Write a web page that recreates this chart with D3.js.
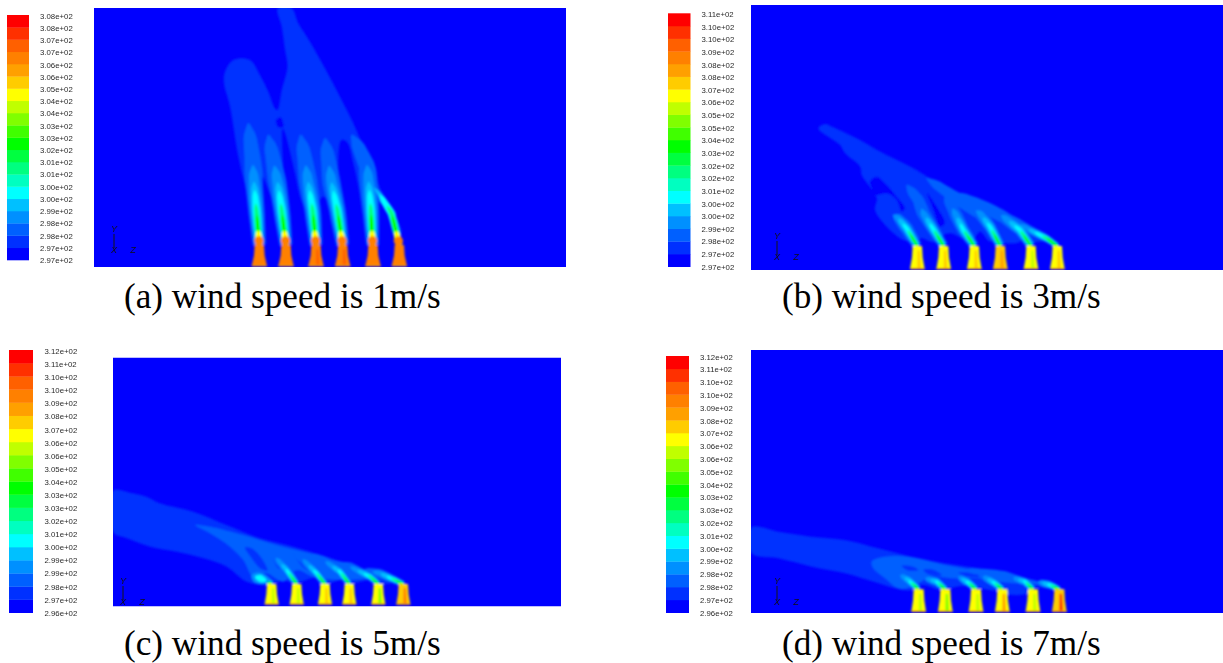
<!DOCTYPE html>
<html>
<head>
<meta charset="utf-8">
<script src="https://d3js.org/d3.v7.min.js"></script>
<style>
html, body { margin: 0; padding: 0; background: #fff; }
svg { display: block; }
.leg text { font-family: "Liberation Sans", sans-serif; font-size: 7.8px; fill: #2a2a2a; }
.caption { font-family: "Liberation Serif", serif; font-size: 35.2px; fill: #000; }
.triad { font-family: "Liberation Sans", sans-serif; font-size: 9px; font-style: italic; fill: #111; }
</style>
</head>
<body>
<svg width="1223" height="663"></svg>
<script>
// colour bands of the contour legend, lowest first
const bands = ["#0000ff", "#0030ff", "#0060ff", "#0090ff", "#00c0ff", "#00ffff", "#00ffc0", "#00ff80", "#00ff40", "#00ff00",
    "#40ff00", "#80ff00", "#c0ff00", "#ffff00", "#ffcc00", "#ffa000", "#ff8000", "#ff6000", "#ff3000", "#ff0000"];

const labelsA = ["3.08e+02", "3.08e+02", "3.07e+02", "3.07e+02", "3.06e+02", "3.06e+02", "3.05e+02", "3.04e+02", "3.04e+02", "3.03e+02", "3.03e+02", "3.02e+02", "3.01e+02", "3.01e+02", "3.00e+02", "3.00e+02", "2.99e+02", "2.98e+02", "2.98e+02", "2.97e+02", "2.97e+02"];
const labelsB = ["3.11e+02", "3.10e+02", "3.10e+02", "3.09e+02", "3.08e+02", "3.08e+02", "3.07e+02", "3.06e+02", "3.05e+02", "3.05e+02", "3.04e+02", "3.03e+02", "3.02e+02", "3.02e+02", "3.01e+02", "3.00e+02", "3.00e+02", "2.99e+02", "2.98e+02", "2.97e+02", "2.97e+02"];
const labelsC = ["3.12e+02", "3.11e+02", "3.10e+02", "3.10e+02", "3.09e+02", "3.08e+02", "3.07e+02", "3.06e+02", "3.06e+02", "3.05e+02", "3.04e+02", "3.03e+02", "3.03e+02", "3.02e+02", "3.01e+02", "3.00e+02", "2.99e+02", "2.99e+02", "2.98e+02", "2.97e+02", "2.96e+02"];
const labelsD = ["3.12e+02", "3.11e+02", "3.10e+02", "3.10e+02", "3.09e+02", "3.08e+02", "3.07e+02", "3.06e+02", "3.06e+02", "3.05e+02", "3.04e+02", "3.03e+02", "3.03e+02", "3.02e+02", "3.01e+02", "3.00e+02", "2.99e+02", "2.98e+02", "2.98e+02", "2.97e+02", "2.96e+02"];

// tower axis positions and bands [body, stripe]
const towersA = [[148, 16, 16], [228, 16, 16], [318, 16, 17], [398, 16, 17], [489, 16, 16], [568, 16, 16]];
const towersB = [[382, 13, 14], [461, 13, 14], [553, 13, 14], [631, 14, 15], [723, 13, 12], [802, 13, 14]];
const towersC = [[485, 13, 12], [560, 13, 12], [645, 13, 14], [718, 13, 14], [805, 13, 11], [880, 14, 16]];
const towersD = [[521, 13, 12], [601, 13, 11], [693, 13, 12], [772, 13, 15], [864, 13, 12], [943, 14, 18]];

// plume centre lines, from tower top downwind
const plumesA = [
    [[148, 735], [140, 640], [133, 560], [128, 480], [115, 370]],
    [[228, 735], [215, 630], [205, 560], [190, 480], [175, 405]],
    [[318, 735], [308, 630], [295, 550], [285, 480], [272, 405]],
    [[398, 735], [382, 630], [365, 550], [355, 480], [345, 415]],
    [[488, 735], [482, 620], [472, 500], [445, 440], [425, 405]],
    [[568, 735], [545, 640], [510, 585], [490, 560]]
];
const plumesB = [
    [[382, 408], [350, 355], [325, 325], [310, 315]],
    [[461, 408], [425, 350], [400, 310], [385, 270], [350, 225]],
    [[553, 408], [520, 360], [490, 300], [465, 255]],
    [[631, 408], [600, 350], [570, 310], [500, 265], [410, 205]],
    [[723, 408], [690, 360], [640, 320], [560, 280], [490, 250]],
    [[802, 408], [770, 385], [720, 360], [650, 320], [600, 300]]
];
const plumesC = [
    [[485, 342], [465, 330], [435, 322]],
    [[560, 342], [530, 300], [490, 255], [460, 232]],
    [[645, 342], [620, 310], [580, 270], [550, 250]],
    [[718, 342], [690, 305], [640, 270], [600, 255]],
    [[805, 342], [780, 320], [720, 290], [660, 280]],
    [[880, 342], [850, 328], [810, 310], [760, 300]]
];
const plumesD = [
    [[521, 238], [490, 210], [450, 185]],
    [[601, 238], [575, 215], [540, 205]],
    [[693, 238], [670, 218], [640, 200]],
    [[772, 238], [750, 220], [700, 190]],
    [[864, 238], [840, 215], [780, 195], [660, 180]],
    [[943, 238], [915, 225], [880, 215]]
];

// relative width of the outer bands of each plume
const slimA = [1, 1, 1, 1, 1, 0.4];
const slimB = [1, 1, 1, 1, 1, 0.7];
const slimC = [1, 1, 1, 1, 1, 1];
const slimD = [1, 1, 1, 1, 1, 1];

// [band, reach along the plume, half width]
const layersA = [[2, 999, 27], [3, 240, 19], [4, 190, 14], [5, 165, 11], [7, 125, 8], [9, 90, 7], [13, 42, 10], [16, 26, 14]];
const layersB = [[2, 999, 19], [3, 130, 13], [4, 100, 10], [5, 80, 6], [7, 55, 5], [9, 38, 5]];
const layersC = [[2, 999, 13], [3, 100, 9], [4, 75, 7], [5, 55, 5], [7, 40, 4], [9, 25, 4]];
const layersD = [[2, 999, 12], [3, 70, 10], [4, 55, 7], [5, 40, 5], [7, 30, 4], [9, 20, 4]];

// low temperature contours: [band, outline]
const contoursA = [
    [1, [[203, 25], [245, 25], [265, 70], [300, 125], [345, 205], [390, 290], [430, 370], [460, 440], [490, 510], [515, 575], [545, 625], [575, 700], [560, 715], [530, 640], [505, 605], [505, 650], [495, 690], [475, 690], [460, 650], [445, 560], [430, 490], [412, 428], [395, 420], [385, 480], [395, 600], [405, 690], [385, 680], [365, 620], [340, 590], [330, 600], [325, 650], [310, 680], [295, 650], [270, 590], [255, 520], [225, 400], [218, 385], [220, 500], [235, 620], [225, 680], [210, 680], [190, 610], [175, 570], [158, 530], [155, 620], [145, 690], [130, 690], [115, 600], [85, 470], [60, 320], [42, 250], [45, 215], [70, 180], [120, 180], [150, 225], [175, 275], [195, 325], [202, 330], [215, 270], [232, 200], [225, 150], [215, 80]]],
    [0, [[198, 360], [212, 352], [220, 380], [205, 382]]]
];
const contoursB = [
    [1, [[85, 55], [105, 42], [130, 52], [200, 85], [280, 130], [380, 180], [480, 245], [570, 290], [650, 320], [720, 355], [790, 395], [810, 408], [760, 395], [715, 395], [690, 365], [690, 395], [635, 395], [625, 365], [600, 395], [570, 365], [545, 395], [515, 385], [480, 370], [445, 385], [440, 395], [420, 395], [395, 385], [370, 395], [340, 390], [290, 350], [255, 300], [260, 265], [235, 225], [215, 195], [210, 170], [165, 130], [150, 105]]],
    [0, [[240, 215], [260, 200], [290, 225], [320, 260], [345, 295], [335, 305], [320, 270], [290, 250], [255, 255], [245, 235]]],
    [0, [[412, 250], [440, 290], [465, 340], [450, 350], [430, 300]]],
    [0, [[490, 300], [505, 320], [530, 355], [515, 360], [497, 325]]]
];
const contoursC = [
    [1, [[10, 62], [60, 68], [110, 80], [150, 100], [250, 125], [350, 165], [450, 205], [550, 230], [650, 260], [750, 295], [850, 325], [895, 345], [860, 338], [800, 342], [790, 330], [705, 342], [700, 330], [630, 345], [620, 325], [550, 340], [520, 330], [475, 345], [410, 335], [350, 290], [280, 265], [200, 245], [120, 230], [50, 205], [10, 187]]],
    [2, [[255, 165], [300, 170], [400, 195], [500, 225], [600, 250], [700, 280], [800, 310], [870, 335], [800, 325], [700, 330], [610, 320], [560, 300], [520, 335], [470, 310], [430, 320], [400, 270], [360, 230], [300, 190]]],
    [1, [[405, 232], [425, 235], [455, 265], [472, 302], [450, 295], [425, 265]]],
    [1, [[470, 240], [495, 260], [525, 300], [505, 295], [485, 265]]],
    [1, [[550, 250], [575, 270], [610, 305], [590, 300], [565, 275]]]
];
const contoursD = [
    [1, [[20, 52], [100, 65], [200, 80], [300, 90], [400, 115], [500, 140], [600, 160], [700, 175], [800, 195], [900, 218], [960, 240], [900, 235], [870, 232], [850, 250], [800, 255], [750, 243], [700, 235], [650, 228], [590, 240], [530, 225], [500, 240], [470, 240], [400, 220], [300, 190], [200, 170], [100, 145], [20, 130]]],
    [2, [[380, 155], [420, 140], [500, 142], [600, 165], [700, 182], [800, 198], [900, 222], [850, 222], [760, 215], [700, 205], [620, 205], [560, 200], [500, 230], [460, 235], [420, 205], [385, 175]]],
    [1, [[470, 168], [505, 170], [520, 180], [490, 182]]],
    [1, [[535, 180], [560, 178], [590, 195], [555, 195]]],
    [1, [[640, 188], [690, 190], [720, 200], [670, 200]]]
];

// warm spots that sit over the plumes
const spotsC = [
    [3, [[425, 315], [450, 308], [480, 330], [460, 342], [432, 335]]],
    [5, [[435, 320], [452, 315], [470, 332], [450, 335]]]
];

// width of a plume band along its reach
const girth = d3.scaleLinear().domain([0, 0.25, 0.6, 0.9, 1]).range([0.72, 0.9, 1, 0.7, 0.1]);

function ribbon(pts, reach, halfWidth) {
    const dist = [0];
    for (let i = 1; i < pts.length; i++) {
        dist.push(dist[i - 1] + Math.hypot(pts[i][0] - pts[i - 1][0], pts[i][1] - pts[i - 1][1]));
    }
    const end = Math.min(reach, dist[dist.length - 1]);
    const xAt = d3.scaleLinear().domain(dist).range(pts.map(p => p[0]));
    const yAt = d3.scaleLinear().domain(dist).range(pts.map(p => p[1]));
    const left = [], right = [];
    d3.range(25).forEach(i => {
        const t = i / 24, s = t * end;
        const dx = xAt(s + 2) - xAt(s - 2), dy = yAt(s + 2) - yAt(s - 2);
        const len = Math.hypot(dx, dy) || 1;
        const w = halfWidth * girth(t);
        left.push([xAt(s) - dy / len * w, yAt(s) + dx / len * w]);
        right.push([xAt(s) + dy / len * w, yAt(s) - dx / len * w]);
    });
    return left.concat(right.reverse());
}

const svg = d3.select("svg");
const defs = svg.append("defs");
defs.append("filter").attr("id", "soft").append("feGaussianBlur").attr("stdDeviation", 0.8);
defs.append("filter").attr("id", "softText").append("feGaussianBlur").attr("stdDeviation", 0.28);

function drawPanel(p, idx) {
    // legend bar and its labels
    const leg = svg.append("g").attr("class", "leg");
    const barY = d3.scaleBand().domain(d3.range(20).reverse()).range([p.barTop, p.barBottom]);
    leg.selectAll("rect").data(bands).enter().append("rect")
        .attr("x", p.barX)
        .attr("y", (d, i) => barY(i))
        .attr("width", p.barW)
        .attr("height", barY.bandwidth() + 0.3)
        .attr("fill", d => d);
    const labelY = d3.scaleLinear().domain([0, p.labels.length - 1]).range([p.labelTop, p.barBottom]);
    const axis = d3.axisRight(labelY)
        .tickValues(d3.range(p.labels.length))
        .tickSize(0)
        .tickPadding(0)
        .tickFormat(i => p.labels[i]);
    const axisG = leg.append("g").attr("transform", `translate(${p.labelX},0)`).attr("filter", "url(#softText)").call(axis);
    axisG.select(".domain").remove();

    // plot area
    defs.append("clipPath").attr("id", "clip" + idx).append("rect")
        .attr("x", p.left).attr("y", p.top).attr("width", p.right - p.left).attr("height", p.bottom - p.top);
    const plot = svg.append("g").attr("clip-path", `url(#clip${idx})`);
    plot.append("rect")
        .attr("x", p.left).attr("y", p.top).attr("width", p.right - p.left).attr("height", p.bottom - p.top)
        .attr("fill", bands[0]);

    const x = d3.scaleLinear().domain(p.xDomain).range(p.xRange);
    const y = d3.scaleLinear().domain(p.yDomain).range(p.yRange);
    const line = d3.line().x(d => x(d[0])).y(d => y(d[1])).curve(d3.curveLinearClosed);
    const smooth = d3.line().x(d => x(d[0])).y(d => y(d[1])).curve(d3.curveCatmullRomClosed.alpha(0.5));
    const g = plot.append("g").attr("filter", "url(#soft)");

    p.contours.forEach(c => {
        g.append("path").attr("d", smooth(c[1])).attr("fill", bands[c[0]]);
    });
    p.layers.forEach(l => {
        p.plumes.forEach((pts, i) => {
            // the outer bands follow the plume's own width, the hot core does not
            const w = l[0] < 5 ? l[2] * p.slim[i] : l[2];
            g.append("path").attr("d", line(ribbon(pts, l[1], w))).attr("fill", bands[l[0]]);
        });
    });
    (p.spots || []).forEach(c => {
        g.append("path").attr("d", smooth(c[1])).attr("fill", bands[c[0]]);
    });
    p.towers.forEach(t => {
        const [cx, body, stripe] = t;
        const h = p.towerBase - p.towerTop;
        g.append("path").attr("d", line([
            [cx - p.halfTop, p.towerTop], [cx + p.halfTop, p.towerTop],
            [cx + p.halfTop + 2, p.towerTop + h * 0.5], [cx + p.halfBase, p.towerBase],
            [cx - p.halfBase, p.towerBase], [cx - p.halfTop - 2, p.towerTop + h * 0.5]
        ])).attr("fill", bands[body]);
        g.append("path").attr("d", line([
            [cx + 1, p.towerTop + h * 0.2], [cx + p.halfTop * 0.55, p.towerTop + h * 0.2],
            [cx + p.halfBase * 0.5, p.towerBase], [cx, p.towerBase]
        ])).attr("fill", bands[stripe]);
        g.append("path").attr("d", line([
            [cx - p.halfBase, p.towerBase - 3], [cx + p.halfBase, p.towerBase - 3],
            [cx + p.halfBase, p.towerBase + 1], [cx - p.halfBase, p.towerBase + 1]
        ])).attr("fill", bands[15]);
    });

    // coordinate triad
    const tri = svg.append("g").attr("class", "triad").attr("filter", "url(#softText)");
    tri.append("text").attr("x", p.triad[0]).attr("y", p.triad[1] - 18).attr("text-anchor", "middle").text("Y");
    tri.append("line").attr("x1", p.triad[0]).attr("x2", p.triad[0]).attr("y1", p.triad[1] - 16).attr("y2", p.triad[1] - 2).attr("stroke", "#111");
    tri.append("text").attr("x", p.triad[0]).attr("y", p.triad[1] + 3).attr("text-anchor", "middle").text("X");
    tri.append("text").attr("x", p.triad[0] + 19).attr("y", p.triad[1] + 3).attr("text-anchor", "middle").text("Z");

    svg.append("text").attr("class", "caption").attr("x", p.capX).attr("y", p.capY).text(p.caption);
}

drawPanel({
    labels: labelsA, towers: towersA, plumes: plumesA, slim: slimA, layers: layersA, contours: contoursA,
    barX: 7, barW: 22, barTop: 15, barBottom: 260, labelX: 40, labelTop: 15.7,
    left: 94, right: 566, top: 8, bottom: 267,
    xDomain: [0, 660], xRange: [210, 430], yDomain: [0, 825], yRange: [0, 275],
    towerTop: 735, towerBase: 798, halfTop: 14, halfBase: 23,
    triad: [114, 250], capX: 124, capY: 308, caption: "(a) wind speed is 1m/s"
}, 0);
drawPanel({
    labels: labelsB, towers: towersB, plumes: plumesB, slim: slimB, layers: layersB, contours: contoursB,
    barX: 668, barW: 22.5, barTop: 13.3, barBottom: 266.7, labelX: 701.5, labelTop: 14,
    left: 751, right: 1223, top: 5, bottom: 270,
    xDomain: [0, 870], xRange: [790, 1080], yDomain: [0, 495], yRange: [110, 275],
    towerTop: 408, towerBase: 477, halfTop: 14, halfBase: 22,
    triad: [777, 257], capX: 782, capY: 308, caption: "(b) wind speed is 3m/s"
}, 1);
drawPanel({
    labels: labelsC, towers: towersC, plumes: plumesC, slim: slimC, layers: layersC, contours: contoursC, spots: spotsC,
    barX: 9, barW: 24, barTop: 350, barBottom: 612.7, labelX: 44.5, labelTop: 351,
    left: 113, right: 561, top: 357.5, bottom: 606.5,
    xDomain: [0, 930], xRange: [110, 420], yDomain: [0, 420], yRange: [470, 610],
    towerTop: 342, towerBase: 403, halfTop: 14, halfBase: 21,
    triad: [123, 602], capX: 124, capY: 655, caption: "(c) wind speed is 5m/s"
}, 2);
drawPanel({
    labels: labelsD, towers: towersD, plumes: plumesD, slim: slimD, layers: layersD, contours: contoursD,
    barX: 666, barW: 23, barTop: 356, barBottom: 612.7, labelX: 700, labelTop: 356.5,
    left: 751, right: 1223, top: 350, bottom: 613,
    xDomain: [0, 990], xRange: [745, 1075], yDomain: [0, 330], yRange: [510, 620],
    towerTop: 238, towerBase: 305, halfTop: 15, halfBase: 22,
    triad: [777, 602], capX: 782, capY: 655, caption: "(d) wind speed is 7m/s"
}, 3);
</script>
</body>
</html>
